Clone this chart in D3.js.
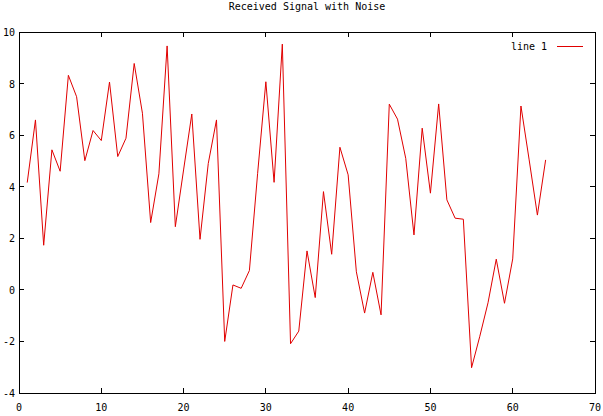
<!DOCTYPE html>
<html>
<head>
<meta charset="utf-8">
<script src="https://cdn.jsdelivr.net/npm/d3@7"></script>
<style>
  html, body { margin: 0; padding: 0; background: #fff; }
  text { font-family: "DejaVu Sans Mono", "Liberation Mono", monospace; font-size: 10px; fill: #000; }
</style>
</head>
<body>
<svg id="chart" width="603" height="416"></svg>
<script>
const title = "Received Signal with Noise";
const seriesName = "line 1";
const xValues = d3.range(1, 65);
const yValues = [
  4.16, 6.59, 1.73, 5.43, 4.6, 8.32, 7.49, 5.01, 6.18, 5.79,
  8.06, 5.17, 5.88, 8.78, 6.85, 2.61, 4.5, 9.46, 2.45, 4.65,
  6.82, 1.96, 4.9, 6.59, -2.0, 0.19, 0.06, 0.75, 4.52, 8.07,
  4.17, 9.53, -2.09, -1.6, 1.51, -0.3, 3.81, 1.38, 5.53, 4.46,
  0.7, -0.9, 0.68, -0.97, 7.2, 6.62, 5.1, 2.13, 6.27, 3.75,
  7.21, 3.49, 2.78, 2.74, -3.02, -1.8, -0.5, 1.19, -0.52, 1.2,
  7.13, 5.04, 2.9, 5.04
];
const xTicks = [0, 10, 20, 30, 40, 50, 60, 70];
const yTicks = [-4, -2, 0, 2, 4, 6, 8, 10];

(function () {
const svg = d3.select("#chart");
const pLeft = 19, pRight = 595, pTop = 32, pBottom = 393;
const x = d3.scaleLinear().domain([0, 70]).range([pLeft, pRight]);
const y = d3.scaleLinear().domain([-4, 10]).range([pBottom, pTop]);
const tick = 5;

// title
svg.append("text").attr("x", 307).attr("y", 10).attr("text-anchor", "middle").text(title);

// ticks (inward, mirrored)
const g = svg.append("g").attr("stroke", "#000").attr("stroke-width", 1).attr("shape-rendering", "crispEdges");
xTicks.forEach(t => {
  g.append("line").attr("x1", x(t)).attr("x2", x(t)).attr("y1", pBottom).attr("y2", pBottom - tick);
  g.append("line").attr("x1", x(t)).attr("x2", x(t)).attr("y1", pTop).attr("y2", pTop + tick);
});
yTicks.forEach(t => {
  g.append("line").attr("x1", pLeft).attr("x2", pLeft + tick).attr("y1", y(t)).attr("y2", y(t));
  g.append("line").attr("x1", pRight).attr("x2", pRight - tick).attr("y1", y(t)).attr("y2", y(t));
});

// tick labels
xTicks.forEach(t => {
  svg.append("text").attr("x", x(t)).attr("y", pBottom + 18).attr("text-anchor", "middle").text(t);
});
yTicks.forEach(t => {
  svg.append("text").attr("x", pLeft - 4).attr("y", y(t) + 4).attr("text-anchor", "end").text(t);
});

// data line
const line = d3.line().x((d, i) => x(xValues[i])).y(d => y(d));
svg.append("path").datum(yValues).attr("d", line)
  .attr("fill", "none").attr("stroke", "#e00000").attr("stroke-width", 1);

// border
svg.append("rect").attr("x", pLeft).attr("y", pTop).attr("width", pRight - pLeft).attr("height", pBottom - pTop)
  .attr("fill", "none").attr("stroke", "#000").attr("stroke-width", 1).attr("shape-rendering", "crispEdges");

// legend
svg.append("text").attr("x", 547).attr("y", 50).attr("text-anchor", "end").text(seriesName);
svg.append("line").attr("x1", 557).attr("x2", 583).attr("y1", 46.5).attr("y2", 46.5)
  .attr("stroke", "#e00000").attr("stroke-width", 1);
})();
</script>
</body>
</html>
